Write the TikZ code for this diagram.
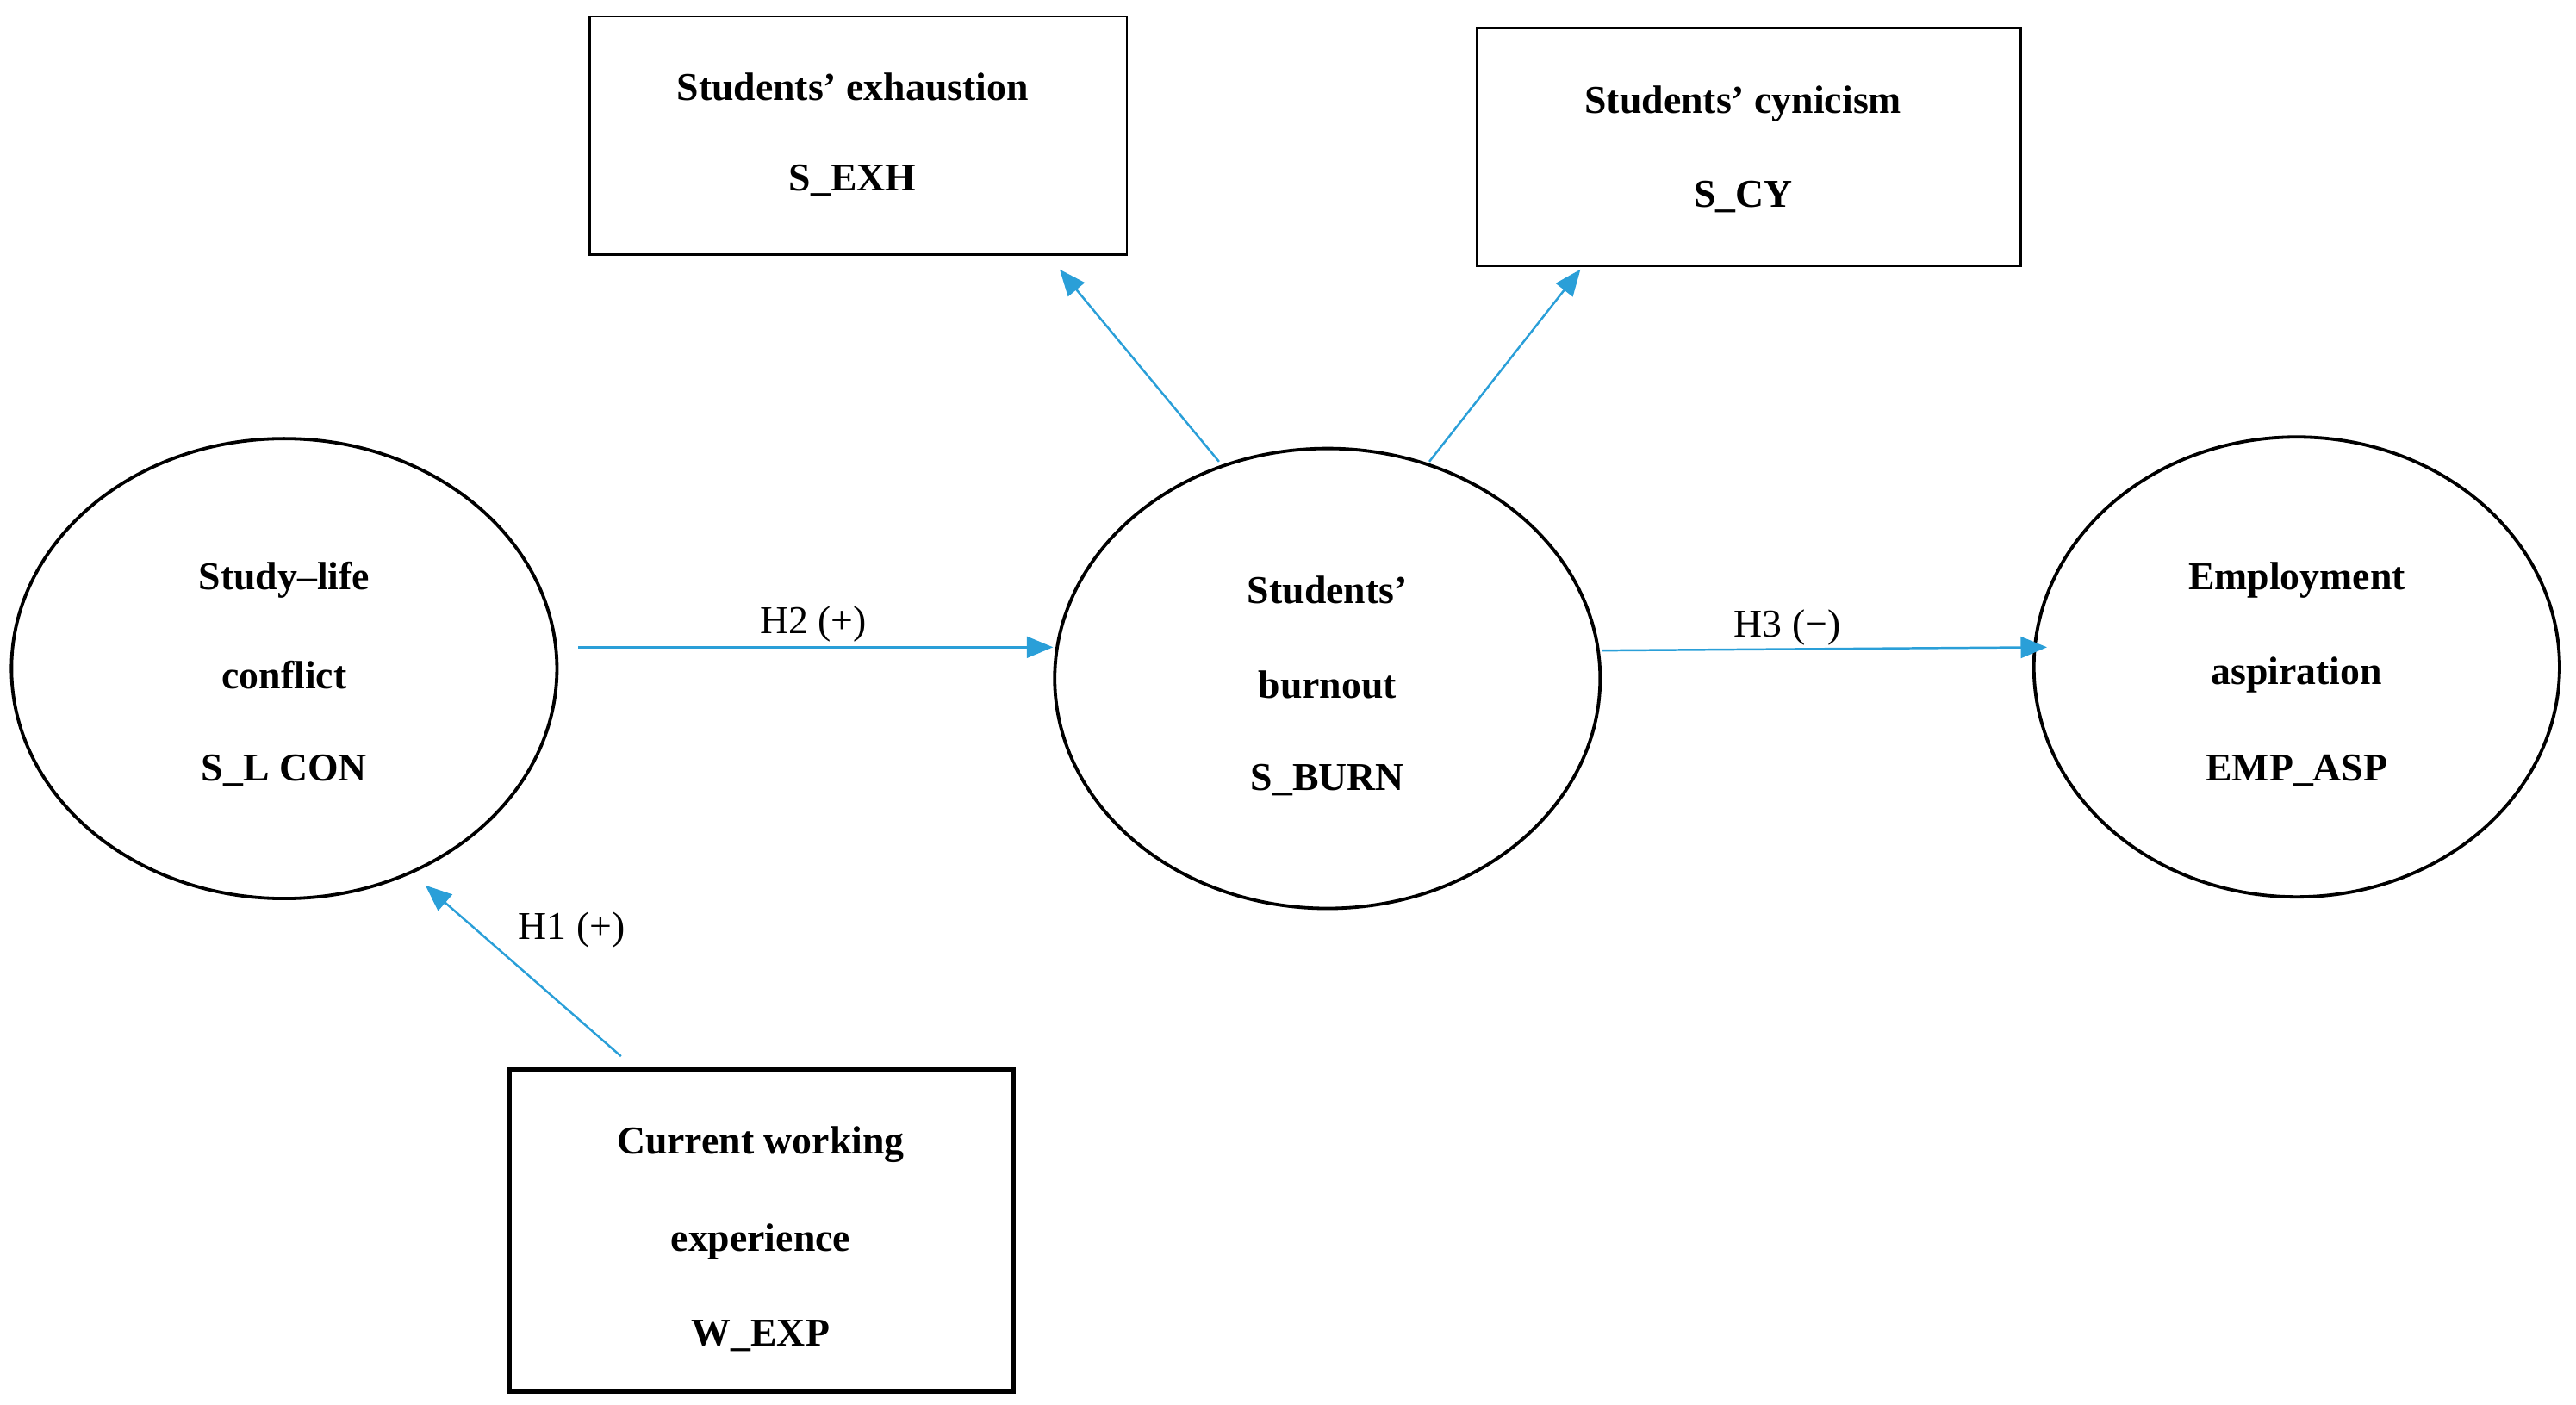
\documentclass[tikz,border=0pt]{standalone}
\usepackage{fontspec}
\setmainfont{Liberation Serif}
\usetikzlibrary{arrows.meta}
\definecolor{arr}{HTML}{2A9FD8}
\begin{document}
\begin{tikzpicture}[x=1pt,y=-1pt,
  box/.style={draw,line width=1.3pt,font=\bfseries\fontsize{24}{58}\selectfont,align=center},
  ell/.style={draw,line width=2pt,ellipse,font=\bfseries\fontsize{24}{58}\selectfont,align=center},
  ar/.style={arr,line width=1.3pt,-{Triangle[length=16pt,width=13pt]}},
  lab/.style={font=\fontsize{24}{28}\selectfont}]
\useasboundingbox (0,0) rectangle (1568,855);
\draw[line width=1.3pt] (359,10) rectangle (686,155);
\node[font=\bfseries\fontsize{24}{28}\selectfont] (exh1) at (519,53) {Students’ exhaustion};
\node[font=\bfseries\fontsize{24}{28}\selectfont] (exh2) at (519,110) {S\_EXH};
\draw[line width=1.3pt] (899,17) rectangle (1230,162);
\node[font=\bfseries\fontsize{24}{28}\selectfont] (cy1) at (1061,63) {Students’ cynicism};
\node[font=\bfseries\fontsize{24}{28}\selectfont] (cy2) at (1061,120) {S\_CY};
\draw[line width=2.6pt] (310,651) rectangle (617,847);
\node[font=\bfseries\fontsize{24}{28}\selectfont] (w1) at (463,697) {Current working};
\node[font=\bfseries\fontsize{24}{28}\selectfont] (w2) at (463,756) {experience};
\node[font=\bfseries\fontsize{24}{28}\selectfont] (w3) at (463,813) {W\_EXP};
\draw[line width=2pt] (173,407) ellipse [x radius=166, y radius=140];
\draw[line width=2pt] (808,413) ellipse [x radius=166, y radius=140];
\draw[line width=2pt] (1398,406) ellipse [x radius=160, y radius=140];
\foreach \t/\y [count=\i] in {Study–life/353,conflict/411,S\_L CON/469}
  \node[font=\bfseries\fontsize{24}{28}\selectfont] (a\i) at (173,\y) {\t};
\foreach \t/\y [count=\i] in {Students’/359,burnout/417,S\_BURN/475}
  \node[font=\bfseries\fontsize{24}{28}\selectfont] (b\i) at (808,\y) {\t};
\foreach \t/\y [count=\i] in {Employment/353,aspiration/411,EMP\_ASP/469}
  \node[font=\bfseries\fontsize{24}{28}\selectfont] (c\i) at (1398,\y) {\t};
\coordinate (p1) at (352,394); \coordinate (q1) at (641,394);
\coordinate (p2) at (975,396); \coordinate (q2) at (1246,394);
\coordinate (p3) at (742,281); \coordinate (q3) at (645,164);
\coordinate (p4) at (870,281); \coordinate (q4) at (962,164);
\coordinate (p5) at (378,643); \coordinate (q5) at (259,539);
\draw[ar] (p1) -- (q1); \draw[ar] (p2) -- (q2);
\draw[ar] (p3) -- (q3); \draw[ar] (p4) -- (q4); \draw[ar] (p5) -- (q5);
\node[lab] (h2) at (495,380) {H2 (+)};
\node[lab] (h3) at (1088,382) {H3 (−)};
\node[lab] (h1) at (348,566) {H1 (+)};
\end{tikzpicture}
\end{document}
